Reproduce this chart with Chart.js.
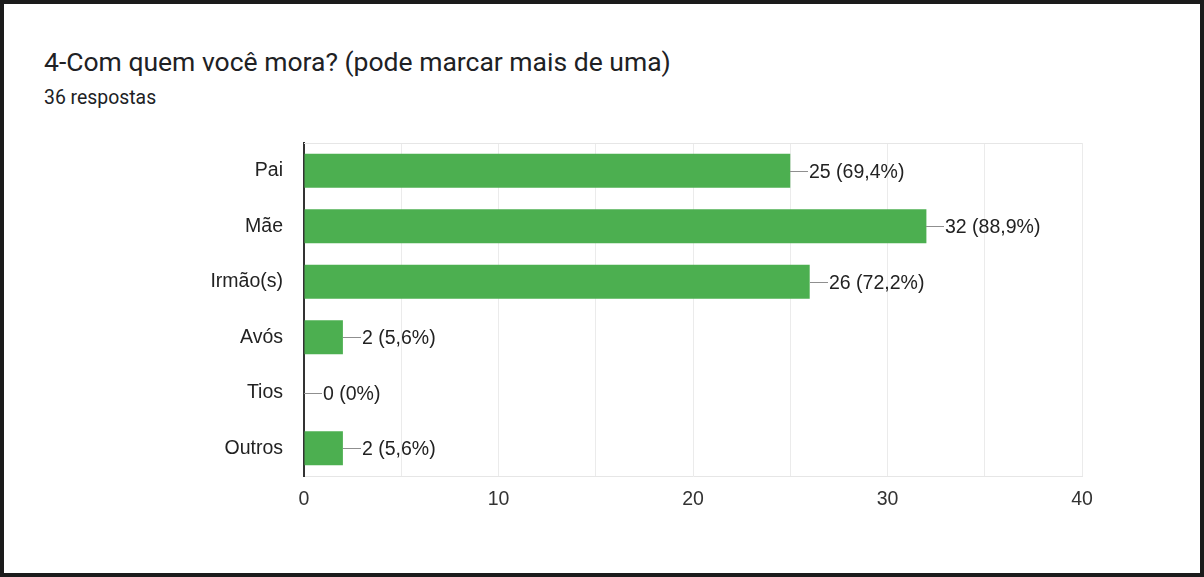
<!DOCTYPE html>
<html lang="pt-BR">
<head>
<meta charset="utf-8">
<title>4-Com quem você mora?</title>
<script src="https://cdn.jsdelivr.net/npm/chart.js@4.4.1/dist/chart.umd.min.js"></script>
<style>
  html, body { margin: 0; padding: 0; background: #fff; }
  #page { position: relative; width: 1204px; height: 577px; overflow: hidden; }
  #frame {
    position: absolute; left: 0; top: 0; width: 1204px; height: 577px;
    box-sizing: border-box; border: 4px solid #1b1b1b; background: #fff;
  }
  .title {
    position: absolute; left: 44px; top: 49px; margin: 0;
    font-family: Roboto, "Noto Sans", sans-serif; font-size: 26.5px; line-height: 26.5px;
    color: #202124; font-weight: 400; white-space: nowrap;
  }
  .subtitle {
    position: absolute; left: 44px; top: 88px; margin: 0;
    font-family: Roboto, "Noto Sans", sans-serif; font-size: 19.4px; line-height: 19px;
    color: #202124; white-space: nowrap;
  }
  #chartBox { position: absolute; left: 0; top: 0; width: 1204px; height: 577px; }
</style>
</head>
<body>
<div id="page">
  <div id="frame"></div>
  <div class="title">4-Com quem você mora? (pode marcar mais de uma)</div>
  <div class="subtitle">36 respostas</div>
  <div id="chartBox"><canvas id="chart" width="1204" height="577"></canvas></div>
</div>
<script>
// Answers and their counts
const categories = ["Pai", "Mãe", "Irmão(s)", "Avós", "Tios", "Outros"];
const counts = [25, 32, 26, 2, 0, 2];
const shares = ["69,4%", "88,9%", "72,2%", "5,6%", "0%", "5,6%"];
const axisTicks = [0, 10, 20, 30, 40];

const labelFont = { family: "'Liberation Sans', Arial, sans-serif", size: 19.5 };

// Writes "count (share)" after each bar, joined to the bar end by a short leader line
const valueLabels = {
  id: "valueLabels",
  afterDatasetsDraw(chart) {
    const ctx = chart.ctx;
    const meta = chart.getDatasetMeta(0);
    ctx.save();
    ctx.font = labelFont.size + "px " + labelFont.family;
    ctx.textAlign = "left";
    ctx.textBaseline = "middle";
    meta.data.forEach((bar, i) => {
      const x = Math.round(bar.x);
      const y = Math.round(bar.y) + 0.5;
      ctx.strokeStyle = "#8f8f8f";
      ctx.lineWidth = 1;
      ctx.beginPath();
      ctx.moveTo(x, y);
      ctx.lineTo(x + 18, y);
      ctx.stroke();
      ctx.fillStyle = "#222222";
      ctx.fillText(counts[i] + " (" + shares[i] + ")", x + 19, y + 1);
    });
    ctx.restore();
  }
};

// Light frame line along the top of the plot area
const plotFrame = {
  id: "plotFrame",
  beforeDatasetsDraw(chart) {
    const { ctx, chartArea } = chart;
    ctx.save();
    ctx.strokeStyle = "#e6e6e6";
    ctx.lineWidth = 1;
    ctx.beginPath();
    ctx.moveTo(chartArea.left, chartArea.top + 0.5);
    ctx.lineTo(chartArea.right, chartArea.top + 0.5);
    ctx.stroke();
    ctx.restore();
  }
};

new Chart(document.getElementById("chart"), {
  type: "bar",
  data: {
    labels: categories,
    datasets: [{
      data: counts,
      backgroundColor: "#4caf50",
      borderWidth: 0,
      barPercentage: 0.613,
      categoryPercentage: 1.0
    }]
  },
  options: {
    indexAxis: "y",
    responsive: false,
    animation: false,
    events: [],
    layout: { padding: { left: 0, top: 143, right: 122, bottom: 61 } },
    plugins: { legend: { display: false }, tooltip: { enabled: false } },
    scales: {
      x: {
        min: axisTicks[0],
        max: axisTicks[axisTicks.length - 1],
        afterBuildTicks(scale) {
          // gridlines every 5, labelled every 10
          const out = [];
          for (let v = axisTicks[0]; v <= axisTicks[axisTicks.length - 1]; v += 5) out.push({ value: v });
          scale.ticks = out;
        },
        afterFit(scale) { scale.height = 40; },
        grid: { color: "#ebebeb", lineWidth: 1, drawTicks: false },
        border: { color: "#e6e6e6", width: 1 },
        ticks: {
          padding: 12,
          color: "#333333",
          font: labelFont,
          maxRotation: 0,
          autoSkip: false,
          callback: (v) => (axisTicks.includes(v) ? String(v) : "")
        }
      },
      y: {
        afterFit(scale) { scale.width = 304; },
        grid: { display: false, drawTicks: false },
        border: { color: "#333333", width: 2 },
        ticks: { padding: 21, color: "#222222", font: labelFont }
      }
    }
  },
  plugins: [plotFrame, valueLabels]
});
</script>
</body>
</html>
